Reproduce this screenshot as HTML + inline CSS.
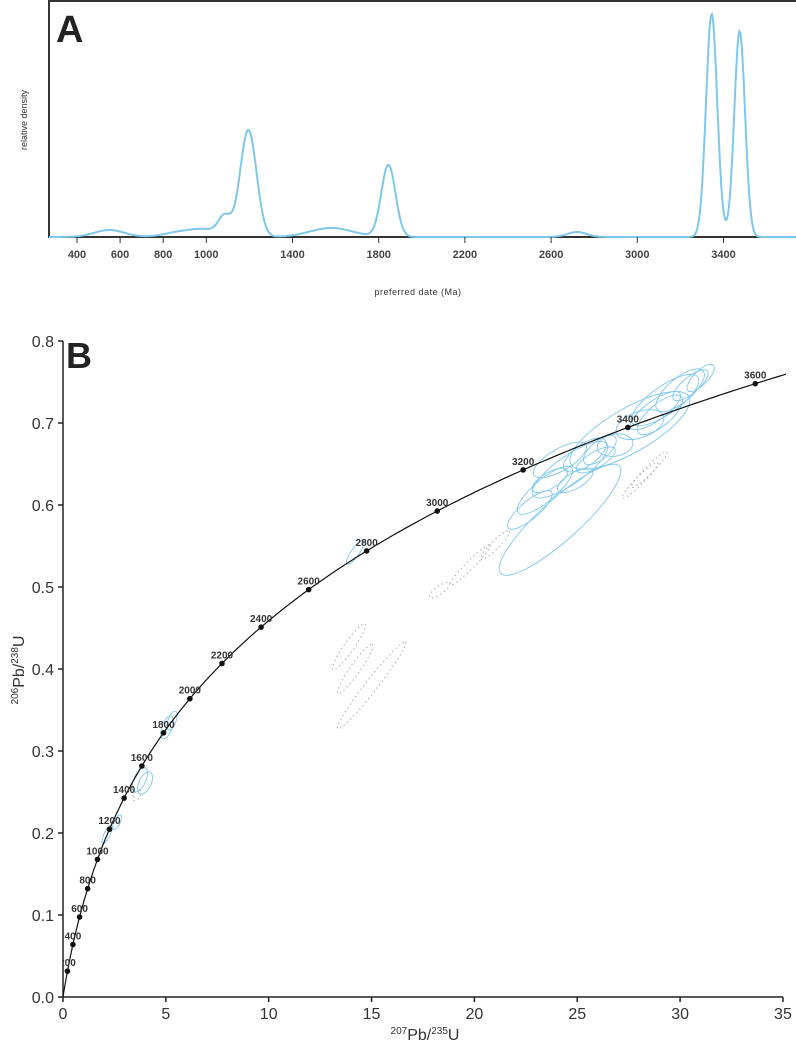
<!DOCTYPE html>
<html><head><meta charset="utf-8"><style>
html,body{margin:0;padding:0;background:#fff;}
svg{display:block;font-family:"Liberation Sans",Arial,sans-serif;}
</style></head><body>
<svg id="chart" width="796" height="1046" viewBox="0 0 796 1046" xmlns="http://www.w3.org/2000/svg">
<defs><clipPath id="clipB"><rect x="63" y="330" width="723" height="667"/></clipPath></defs>
<g id="panelA">
<rect x="49" y="1" width="760" height="236" fill="none" stroke="#333" stroke-width="2"/>
<text x="56" y="42" font-size="38" font-weight="bold" fill="#222">A</text>
<text transform="translate(27,120) rotate(-90)" text-anchor="middle" font-size="9" fill="#333">relative density</text>
<text x="418" y="295" text-anchor="middle" font-size="9" fill="#333" letter-spacing="0.5">preferred date (Ma)</text>
</g>
<g id="panelB">
<text x="66" y="368" font-size="36" font-weight="bold" fill="#222">B</text>
<line x1="63" y1="341" x2="63" y2="997" stroke="#222" stroke-width="1.5"/>
<line x1="63" y1="997" x2="783" y2="997" stroke="#222" stroke-width="1.5"/>
<text transform="translate(24,670) rotate(-90)" text-anchor="middle" font-size="16" fill="#333"><tspan font-size="10" dy="-6">206</tspan><tspan dy="6">Pb/</tspan><tspan font-size="10" dy="-6">238</tspan><tspan dy="6">U</tspan></text>
<text x="425" y="1040" text-anchor="middle" font-size="16" fill="#333"><tspan font-size="10" dy="-6">207</tspan><tspan dy="6">Pb/</tspan><tspan font-size="10" dy="-6">235</tspan><tspan dy="6">U</tspan></text>
</g>
</svg>
<script>
// ---- Panel A data ----
const densityTicks = [400,600,800,1000,1400,1800,2200,2600,3000,3400];
const peakAges = [550, 900, 1000, 1085, 1195, 1580, 1845, 2720, 3345, 3475];
const peakHeights = [7, 6, 5, 20, 107, 9, 72, 5, 223, 206];
const peakSigmas = [70, 80, 50, 30, 38, 100, 33, 45, 26, 25];
// ---- Panel B data ----
const concordiaAges = [200,400,600,800,1000,1200,1400,1600,1800,2000,2200,2400,2600,2800,3000,3200,3400,3600];
const xTicksB = [0,5,10,15,20,25,30,35];
const yTicksB = [0.0,0.1,0.2,0.3,0.4,0.5,0.6,0.7,0.8];
// ellipse centers (207/235, 206/238), semi-axes (px), rotation (deg)
const blueX = [24.16,27.56,24.65,24.16,25.38,26.1,23.43,22.7,29.27,30.0,30.5,29.02,28.05,31.0,26.84,24.9,23.67,14.2,5.06,5.3,3.74,3.99,2.14,2.63,25.9,28.8];
const blueY = [0.582,0.691,0.643,0.655,0.661,0.667,0.618,0.594,0.728,0.740,0.746,0.710,0.698,0.755,0.673,0.630,0.630,0.542,0.329,0.337,0.265,0.261,0.198,0.213,0.655,0.715];
const blueRx = [80,68,45,30,25,20,35,28,40,30,22,28,25,18,18,20,20,14,12,10,13,12,10,8,22,30];
const blueRy = [20,22,14,11,11,9,11,9,14,12,8,11,13,7,11,8,8,4,5,4,6,6,3,3,8,10];
const blueRot = [-42,-30,-35,-30,-35,-40,-40,-40,-35,-40,-40,-40,-20,-45,-10,-30,-30,-55,-70,-70,-65,-65,-65,-65,-30,-35];
const grayX = [18.3,19.8,21.0,28.05,28.5,13.9,14.2,15.0,3.6];
const grayY = [0.496,0.527,0.551,0.630,0.643,0.427,0.400,0.380,0.246];
const grayRx = [12,28,20,25,25,28,30,55,6];
const grayRy = [4,4,4,4,4,5,5,6,3];
const grayRot = [-35,-45,-45,-45,-45,-55,-55,-52,-60];

const NS='http://www.w3.org/2000/svg';
const svg=document.getElementById('chart');
const gA=document.getElementById('panelA'), gB=document.getElementById('panelB');
function mk(tag,attrs,parent){const e=document.createElementNS(NS,tag);for(const k in attrs)e.setAttribute(k,attrs[k]);parent.appendChild(e);return e;}

// Panel A scales
const xA=t=>77+(t-400)*0.2155;
const yA=d=>237-d;
let pts=[];
for(let t=270;t<=3745;t+=4){let d=0;for(let i=0;i<peakAges.length;i++){const z=(t-peakAges[i])/peakSigmas[i];d+=peakHeights[i]*Math.exp(-0.5*z*z);}pts.push(xA(t).toFixed(1)+','+yA(d).toFixed(1));}
const dl=mk('polyline',{points:pts.join(' '),fill:'none',stroke:'#7ec8ec','stroke-width':2},gA);


densityTicks.forEach(t=>{
  const tk=mk('line',{x1:xA(t),x2:xA(t),y1:237,y2:243,stroke:'#333','stroke-width':1},gA);
  
  
  const tl=mk('text',{x:xA(t),y:258,'text-anchor':'middle','font-size':11,'font-weight':'bold',fill:'#444'},gA);
  tl.textContent=t;
  
  
});

// Panel B scales
const xB=v=>63+v*20.57;
const yB=v=>997-v*820;
const L238=1.55125e-4, L235=9.8485e-4;
const cx=t=>Math.exp(L235*t)-1, cy=t=>Math.exp(L238*t)-1;
xTicksB.forEach(v=>{
  const tk=mk('line',{x1:xB(v),x2:xB(v),y1:997,y2:1002,stroke:'#222','stroke-width':1.5},gB);
  
  
  const tl=mk('text',{x:xB(v),y:1019,'text-anchor':'middle','font-size':16,fill:'#333'},gB);
  tl.textContent=v;
  
  
});
yTicksB.forEach(v=>{
  const tk=mk('line',{x1:58,x2:63,y1:yB(v),y2:yB(v),stroke:'#222','stroke-width':1.5},gB);
  
  
  const tl=mk('text',{x:54,y:yB(v)+6,'text-anchor':'end','font-size':16,fill:'#333'},gB);
  tl.textContent=v.toFixed(1);
  
  
});
const clipG=mk('g',{'clip-path':'url(#clipB)'},gB);


function ell(x,y,rx,ry,rot,style,name){
  const e=mk('ellipse',{cx:xB(x),cy:yB(y),rx:rx,ry:ry,transform:'rotate('+rot+' '+xB(x)+' '+yB(y)+')',fill:'none'},clipG);
  for(const k in style)e.setAttribute(k,style[k]);
  
  
}
grayX.forEach((x,i)=>ell(x,grayY[i],grayRx[i],grayRy[i],grayRot[i],{stroke:'#aaa','stroke-width':1,'stroke-dasharray':'1.5 3'},'discordant-ellipse'));
blueX.forEach((x,i)=>ell(x,blueY[i],blueRx[i],blueRy[i],blueRot[i],{stroke:'#7ec8ec','stroke-width':0.9},'analysis-ellipse'));
let cp=[];
for(let t=0;t<=3730;t+=10)cp.push(xB(cx(t)).toFixed(1)+','+yB(cy(t)).toFixed(1));
const cl=mk('polyline',{points:cp.join(' '),fill:'none',stroke:'#111','stroke-width':1.2},clipG);


concordiaAges.forEach(t=>{
  const px=xB(cx(t)),py=yB(cy(t));
  const c=mk('circle',{cx:px,cy:py,r:2.8,fill:'#111'},clipG);
  
  
  const tl=mk('text',{x:px,y:py-5,'text-anchor':'middle','font-size':10,'font-weight':'bold',fill:'#333'},clipG);
  tl.textContent=t;
  
  
});
</script>
</body></html>
